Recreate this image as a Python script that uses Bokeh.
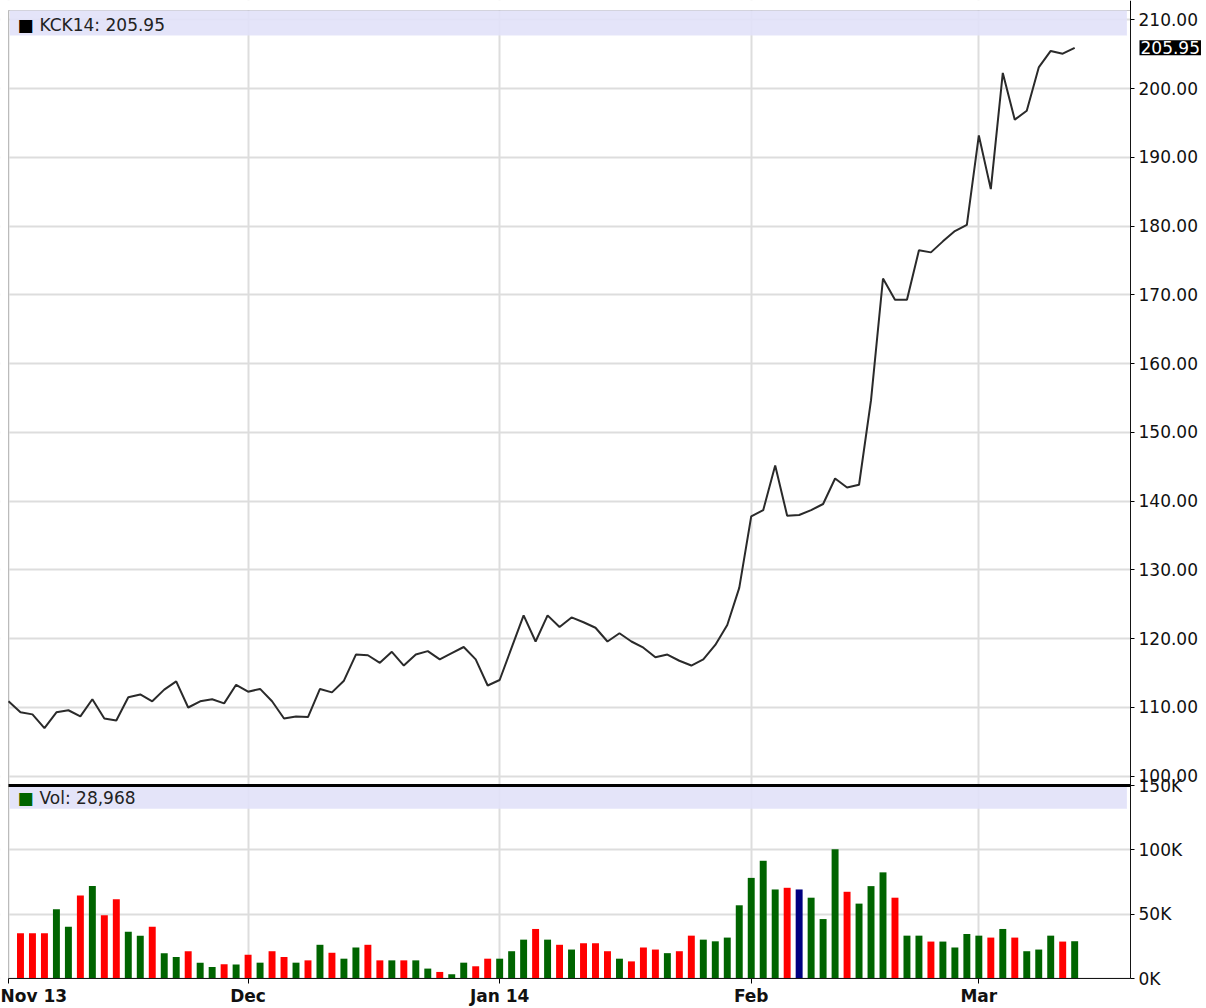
from bokeh.plotting import figure
from bokeh.models import (Range1d, FixedTicker, Label, BoxAnnotation,
                          ColumnDataSource)
from bokeh.transform import factor_cmap
from bokeh.embed import file_html
from bokeh.resources import INLINE

# ---------------- data ----------------
symbol = "KCK14"

# daily closes, Nov 1 2013 .. Mar 13 2014 (trading days)
price = [
    110.9, 109.3, 109.0, 107.0, 109.3, 109.6, 108.7, 111.2, 108.4, 108.1,
    111.5, 111.9, 110.9, 112.6, 113.8, 110.0, 110.9, 111.2, 110.6, 113.3,
    112.3, 112.7, 110.9, 108.4, 108.7, 108.6, 112.7, 112.2, 113.9, 117.7,
    117.6, 116.5, 118.1, 116.1, 117.7, 118.2, 117.0, 117.9, 118.8, 117.0,
    113.2, 114.0, 118.7, 123.4, 119.6, 123.4, 121.7, 123.1, 122.4, 121.6,
    119.6, 120.8, 119.6, 118.7, 117.3, 117.7, 116.8, 116.1, 117.0, 119.1,
    122.0, 127.4, 137.8, 138.7, 145.2, 137.9, 138.0, 138.7, 139.6, 143.3,
    142.0, 142.4, 154.7, 172.4, 169.3, 169.3, 176.5, 176.2, 177.8, 179.3,
    180.2, 193.2, 185.4, 202.3, 195.5, 196.8, 203.1, 205.5, 205.1, 205.95,
]

# daily volume, Nov 4 2013 .. Mar 13 2014
volume = [
    35100, 35100, 35100, 53800, 40200, 64600, 71800, 49200, 61500, 36400,
    33300, 40200, 19700, 16700, 21200, 12300, 8900, 11000, 10800, 18500,
    12300, 21200, 16700, 12300, 14100, 26200, 20000, 15400, 24100, 26200,
    14100, 14100, 14100, 14100, 7700, 5100, 3300, 12300, 9500, 15400,
    15400, 21200, 30200, 38500, 30200, 26200, 22500, 27400, 27400, 21200,
    15400, 13300, 24100, 22500, 19700, 21200, 33300, 30200, 28900, 31800,
    56900, 78200, 91500, 69200, 70500, 69200, 62800, 46200, 100500, 67400,
    58200, 71800, 82500, 62800, 33300, 33300, 28700, 28700, 24100, 34600,
    33300, 31800, 38500, 31800, 21200, 22500, 33300, 28700, 28968,
]

# bar direction: u = up day, d = down day, h = highlighted day
bar_dir = [
    "d", "d", "d", "u", "u", "d", "u", "d", "d", "u",
    "u", "d", "u", "u", "d", "u", "u", "d", "u", "d",
    "u", "d", "d", "u", "d", "u", "d", "u", "u", "d",
    "d", "u", "d", "u", "u", "d", "u", "u", "d", "d",
    "u", "u", "u", "d", "u", "d", "u", "d", "d", "d",
    "u", "d", "d", "d", "u", "d", "d", "u", "u", "u",
    "u", "u", "u", "u", "d", "h", "u", "u", "u", "d",
    "u", "u", "u", "d", "u", "u", "d", "u", "u", "u",
    "u", "d", "u", "d", "u", "u", "u", "d", "u",
]

month_ticks = [0, 20, 41, 62, 81]
month_labels = ["Nov 13", "Dec", "Jan 14", "Feb", "Mar"]
price_ticks = [100, 110, 120, 130, 140, 150, 160, 170, 180, 190, 200, 210]
vol_ticks = [0, 50000, 100000, 150000]
vol_labels = ["0K", "50K", "100K", "150K"]

# ---------------- layout constants ----------------
FONT = "DejaVu Sans"
GRID = "#DDDDDD"
BAND = "#E1E1F8"
W, H = 1206, 1008                   # frame covers the whole canvas
PX_X = 11.9795                      # px per trading day
X_LO = -8 / PX_X                    # chart starts 8px from the left edge
X_AXIS = 93.66                      # x position of the right scale
X_HI = X_AXIS + 76 / PX_X
PX_P = 6.875                        # px per price unit
P_TOP, P_ZERO = 211.38, 70.58       # price at chart top / at volume baseline
P_HI = P_TOP + 10 / PX_P
P_LO = P_ZERO - 30 / PX_P
V_PER_PX = 150000 / 193
V_SPAN = 968 * V_PER_PX             # volume from baseline to chart top
SEP = 1.5 * V_PER_PX                # half thickness of panel separator

day = list(range(len(price)))
vol_day = list(range(1, len(volume) + 1))


def vol_to_price(t):
    return P_ZERO + t / V_SPAN * (P_TOP - P_ZERO)


p = figure(frame_width=W, frame_height=H,
           x_range=Range1d(X_LO, X_HI), y_range=Range1d(P_LO, P_HI),
           output_backend="svg", toolbar_location=None,
           y_axis_location="right", min_border=0)
p.extra_y_ranges = {"vol": Range1d(-30 * V_PER_PX, 978 * V_PER_PX)}
p.outline_line_color = None
p.background_fill_color = "white"

# right scale: price ticks for the upper panel, volume ticks for the lower one
axis_ticks = price_ticks + [vol_to_price(t) for t in vol_ticks]
overrides = {t: f"{t:.2f}" for t in price_ticks}
overrides.update({vol_to_price(t): l for t, l in zip(vol_ticks, vol_labels)})
ya = p.yaxis[0]
ya.fixed_location = X_AXIS
ya.bounds = (P_ZERO - 0.01, P_HI)
ya.ticker = FixedTicker(ticks=axis_ticks)
ya.major_label_overrides = overrides
ya.axis_line_color = "black"
ya.major_tick_out = 4
ya.major_tick_in = 0
ya.minor_tick_line_color = None
ya.major_tick_line_color = "black"
ya.major_label_standoff = 4
ya.major_label_text_font = FONT
ya.major_label_text_font_size = "17px"
ya.major_label_text_color = "#111111"

xa = p.xaxis[0]
xa.fixed_location = P_ZERO
xa.bounds = (0, X_AXIS)
xa.ticker = FixedTicker(ticks=month_ticks)
xa.major_label_overrides = {t: l for t, l in zip(month_ticks, month_labels)}
xa.axis_line_color = "black"
xa.major_tick_out = 5
xa.major_tick_in = 0
xa.minor_tick_line_color = None
xa.major_tick_line_color = "black"
xa.major_label_standoff = 2
xa.major_label_text_font = FONT
xa.major_label_text_font_style = "bold"
xa.major_label_text_font_size = "17px"
xa.major_label_text_color = "#111111"

for g in (p.xgrid[0], p.ygrid[0]):
    g.grid_line_color = GRID
    g.grid_line_width = 2

# keep grid lines inside the chart area
for kw in (dict(left=X_AXIS), dict(right=0), dict(bottom=P_TOP),
           dict(top=P_ZERO)):
    p.add_layout(BoxAnnotation(fill_color="white", fill_alpha=1.0,
                               line_color=None, level="underlay", **kw))

# ---- price line ----
p.line(day, price, line_color="#2a2a2a", line_width=2)

# ---- volume bars ----
src = ColumnDataSource(dict(x=vol_day, vol=volume, d=bar_dir))
p.vbar(x="x", top="vol", width=0.58, source=src, line_color=None,
       y_range_name="vol",
       fill_color=factor_cmap("d", palette=["#FF0000", "#006400", "#000080"],
                              factors=["d", "u", "h"]))

# ---- chart border and panel separator ----
p.add_layout(BoxAnnotation(left=0, right=X_AXIS, bottom=P_ZERO, top=P_TOP,
                           fill_color=None, line_color="#444444",
                           line_width=1))
p.add_layout(BoxAnnotation(left=0, right=X_AXIS, y_range_name="vol",
                           bottom=vol_ticks[-1] - SEP,
                           top=vol_ticks[-1] + SEP,
                           fill_color="black", fill_alpha=1.0,
                           line_color=None))

# ---- legend bands ----
p.add_layout(BoxAnnotation(left=0.1, right=X_AXIS - 0.3, bottom=207.74,
                           top=P_TOP, fill_color=BAND, fill_alpha=0.9,
                           line_color=None))
p.add_layout(Label(x=17, y=209.34, x_units="screen", text="\u25A0",
                   text_color="black", text_font=FONT, text_font_size="17px",
                   text_baseline="middle"))
p.add_layout(Label(x=39, y=209.34, x_units="screen",
                   text=f"{symbol}: {price[-1]:.2f}", text_color="#222222",
                   text_font=FONT, text_font_size="17px",
                   text_baseline="middle"))

p.add_layout(BoxAnnotation(left=0.1, right=X_AXIS - 0.3, bottom=132000,
                           top=vol_ticks[-1] - SEP, y_range_name="vol",
                           fill_color=BAND, fill_alpha=0.9, line_color=None))
p.add_layout(Label(x=17, y=140600, x_units="screen", y_range_name="vol",
                   text="\u25A0", text_color="#006400", text_font=FONT,
                   text_font_size="17px", text_baseline="middle"))
p.add_layout(Label(x=39, y=140600, x_units="screen", y_range_name="vol",
                   text=f"Vol: {volume[-1]:,}", text_color="#222222",
                   text_font=FONT, text_font_size="17px",
                   text_baseline="middle"))

# ---- last value box on the price scale ----
box = Label(x=X_AXIS, y=price[-1], x_offset=9,
            text=f"{price[-1]:.2f}", text_color="white",
            background_fill_color="black", text_font=FONT,
            text_font_size="17px", text_baseline="middle")
if hasattr(box, "padding"):
    box.padding = 1
p.add_layout(box)

open("out.html", "w").write(file_html(p, INLINE))
